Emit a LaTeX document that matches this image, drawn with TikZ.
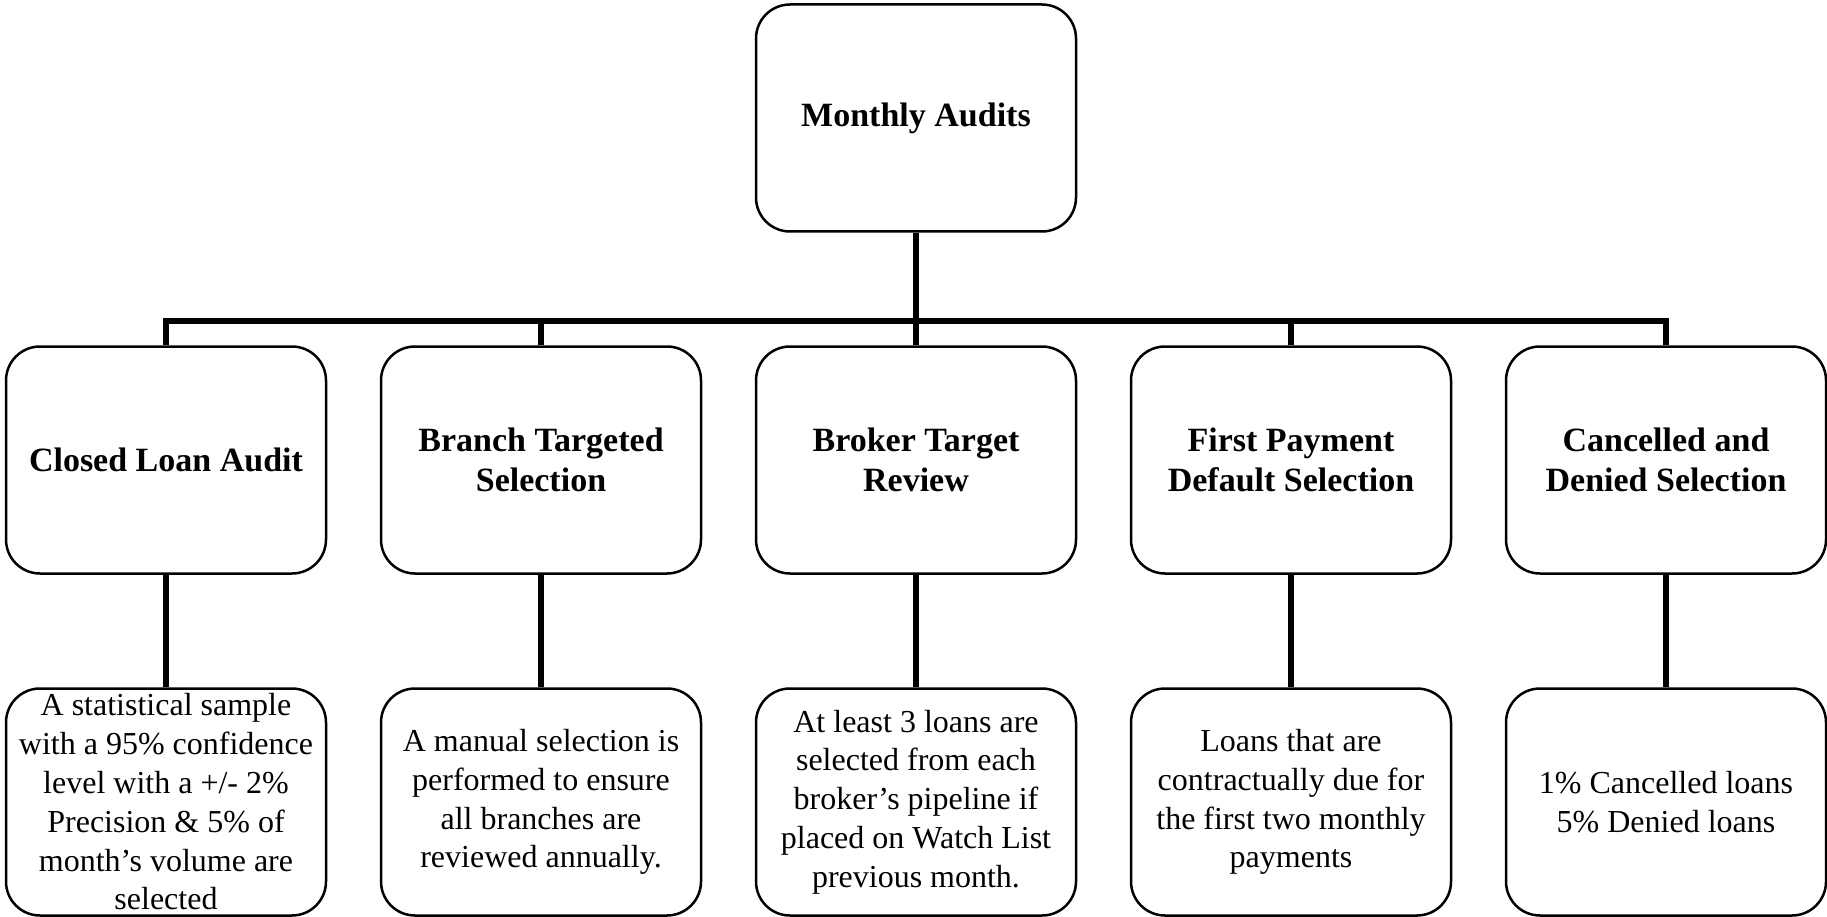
\documentclass[tikz,border=0pt]{standalone}
\usepackage{fontspec}
\setmainfont{Liberation Serif}
\usepackage{tikz}
\usetikzlibrary{shapes,arrows}
\usetikzlibrary{positioning}
\tikzstyle{block} = [rectangle, draw, rounded corners=34pt, line width=2.5pt,
    minimum width=320pt, minimum height=227pt, inner sep=0pt, align=center,
    font=\fontsize{34}{40}\selectfont\bfseries]
\tikzstyle{detail} = [block, font=\fontsize{32}{38.8}\selectfont]
\tikzstyle{line} = [draw, line width=6pt]

\begin{document}
\begin{tikzpicture}[node distance=375pt]
    \useasboundingbox (0,0) rectangle (1827pt,-917pt);
    % Place nodes
    \node [block] (audits) at (916pt,-118pt) {Monthly Audits};

    \node [block, below of=audits, node distance=342pt] (broker) {Broker Target\\Review};
    \node [block, left of=broker] (branch) {Branch Targeted\\Selection};
    \node [block, left of=branch] (closed) {Closed Loan Audit};
    \node [block, right of=broker] (payment) {First Payment\\Default Selection};
    \node [block, right of=payment] (cancel) {Cancelled and\\Denied Selection};

    \node [detail, below of=closed, node distance=342pt] (closedtext) {A statistical sample\\with a 95\% confidence\\level with a +/- 2\%\\Precision \& 5\% of\\month's volume are\\selected};
    \node [detail, below of=branch, node distance=342pt] (branchtext) {A manual selection is\\performed to ensure\\all branches are\\reviewed annually.};
    \node [detail, below of=broker, node distance=342pt] (brokertext) {At least 3 loans are\\selected from each\\broker's pipeline if\\placed on Watch List\\previous month.};
    \node [detail, below of=payment, node distance=342pt] (paymenttext) {Loans that are\\contractually due for\\the first two monthly\\payments};
    \node [detail, below of=cancel, node distance=342pt] (canceltext) {1\% Cancelled loans\\5\% Denied loans};

    % Draw edges
    \path [line] (audits) -- (broker);
    \path [line] (closed.north) --++ (0,24pt) -| (cancel.north);
    \path [line] (branch.north) --++ (0,24pt);
    \path [line] (payment.north) --++ (0,24pt);

    \path [line] (closed) -- (closedtext);
    \path [line] (branch) -- (branchtext);
    \path [line] (broker) -- (brokertext);
    \path [line] (payment) -- (paymenttext);
    \path [line] (cancel) -- (canceltext);
\end{tikzpicture}
\end{document}
